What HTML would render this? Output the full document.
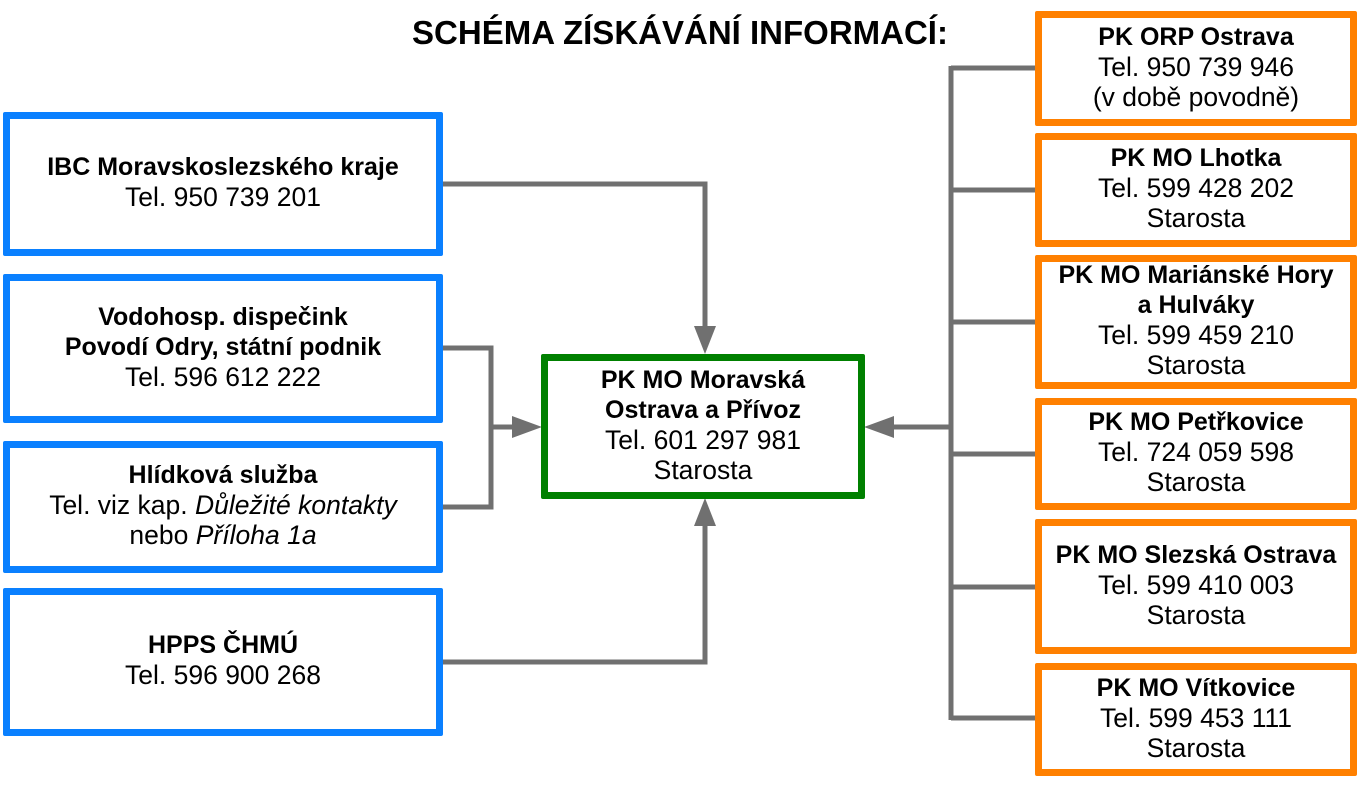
<!DOCTYPE html>
<html><head><meta charset="utf-8"><style>
html,body{margin:0;padding:0;background:#fff;width:1360px;height:787px;overflow:hidden;position:relative;font-family:"Liberation Sans",sans-serif;color:#000}
.b{position:absolute;box-sizing:border-box;border:7px solid;border-radius:2px;background:#fff;display:flex;flex-direction:column;justify-content:center;align-items:center;text-align:center;font-size:26.5px;line-height:30px;white-space:nowrap;padding-bottom:4px}
.bl{border-color:#0a80ff}.or{border-color:#ff8000}.gr{border-color:#008000}
b{font-size:25px}
.t{position:absolute;left:330px;top:13px;width:700px;text-align:center;font-weight:bold;font-size:33px;line-height:40px}
svg{position:absolute;left:0;top:0}
</style></head><body>
<svg width="1360" height="787">
<g stroke="#707070" stroke-width="5" fill="none">
<polyline points="440,184 705,184 705,332"/>
<polyline points="440,662 705,662 705,520"/>
<polyline points="440,348 491,348 491,507 440,507"/>
<line x1="491" y1="427" x2="520" y2="427"/>
<line x1="951" y1="66" x2="951" y2="720"/>
<line x1="951" y1="68" x2="1037" y2="68"/>
<line x1="951" y1="190" x2="1037" y2="190"/>
<line x1="951" y1="322" x2="1037" y2="322"/>
<line x1="951" y1="454" x2="1037" y2="454"/>
<line x1="951" y1="587" x2="1037" y2="587"/>
<line x1="951" y1="718" x2="1037" y2="718"/>
<line x1="951" y1="427" x2="885" y2="427"/>
</g>
<g fill="#707070">
<polygon points="694,326 716,326 705,354"/>
<polygon points="694,526 716,526 705,498"/>
<polygon points="512,416 512,438 542,427"/>
<polygon points="894,416 894,438 864,427"/>
</g>
</svg>
<div class="t">SCHÉMA ZÍSKÁVÁNÍ INFORMACÍ:</div>
<div class="b bl" style="left:3px;top:112px;width:440px;height:144px"><b>IBC Moravskoslezského kraje</b>Tel. 950 739 201</div>
<div class="b bl" style="left:3px;top:274px;width:440px;height:149px"><b>Vodohosp. dispečink</b><b>Povodí Odry, státní podnik</b>Tel. 596 612 222</div>
<div class="b bl" style="left:3px;top:441px;width:440px;height:132px"><b>Hlídková služba</b><span>Tel. viz kap. <i>Důležité kontakty</i></span><span>nebo <i>Příloha 1a</i></span></div>
<div class="b bl" style="left:3px;top:588px;width:440px;height:148px"><b>HPPS ČHMÚ</b>Tel. 596 900 268</div>
<div class="b gr" style="left:541px;top:354px;width:324px;height:145px"><b>PK MO Moravská</b><b>Ostrava a Přívoz</b>Tel. 601 297 981<span>Starosta</span></div>
<div class="b or" style="left:1035px;top:11px;width:322px;height:115px"><b>PK ORP Ostrava</b>Tel. 950 739 946<span>(v době povodně)</span></div>
<div class="b or" style="left:1035px;top:133px;width:322px;height:114px"><b>PK MO Lhotka</b>Tel. 599 428 202<span>Starosta</span></div>
<div class="b or" style="left:1035px;top:255px;width:322px;height:134px"><b>PK MO Mariánské Hory</b><b>a Hulváky</b>Tel. 599 459 210<span>Starosta</span></div>
<div class="b or" style="left:1035px;top:398px;width:322px;height:112px"><b>PK MO Petřkovice</b>Tel. 724 059 598<span>Starosta</span></div>
<div class="b or" style="left:1035px;top:519px;width:322px;height:135px"><b>PK MO Slezská Ostrava</b>Tel. 599 410 003<span>Starosta</span></div>
<div class="b or" style="left:1035px;top:663px;width:322px;height:113px"><b>PK MO Vítkovice</b>Tel. 599 453 111<span>Starosta</span></div>
</body></html>
